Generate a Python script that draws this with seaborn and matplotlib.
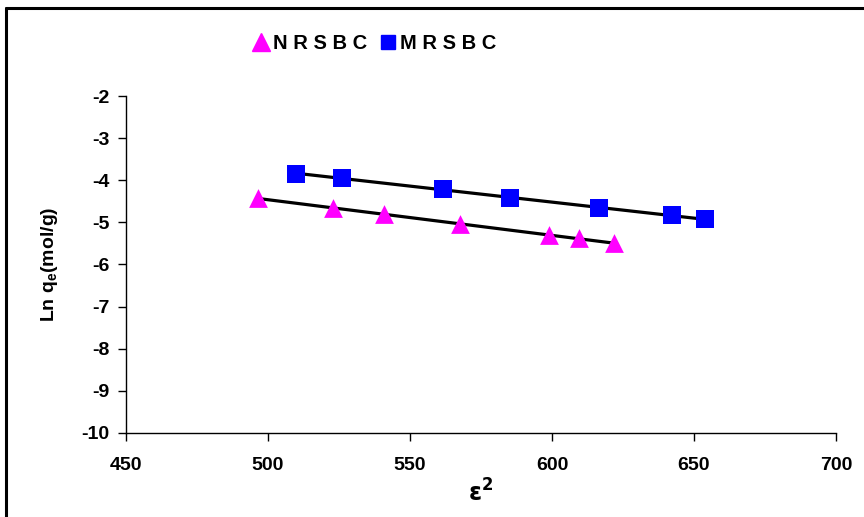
import numpy as np
import pandas as pd
import matplotlib
matplotlib.use("Agg")
import matplotlib.pyplot as plt
import seaborn as sns
from matplotlib.lines import Line2D

# Data
nr_x = [496.4, 523.0, 540.7, 567.5, 598.9, 609.5, 621.7]
nr_y = [-4.43, -4.67, -4.79, -5.04, -5.30, -5.38, -5.50]
mr_x = [509.8, 526.2, 561.7, 585.3, 616.7, 642.1, 653.9]
mr_y = [-3.84, -3.95, -4.21, -4.42, -4.67, -4.83, -4.92]
x_ticks = [450, 500, 550, 600, 650, 700]
y_ticks = [-2, -3, -4, -5, -6, -7, -8, -9, -10]

sns.set_theme(style="white")
plt.rcParams['font.family'] = ['Liberation Sans', 'DejaVu Sans']
plt.rcParams['font.weight'] = 'bold'
plt.rcParams['text.color'] = 'black'
plt.rcParams['axes.labelcolor'] = 'black'
plt.rcParams['xtick.color'] = 'black'
plt.rcParams['ytick.color'] = 'black'

fig = plt.figure(figsize=(8.64, 5.17), dpi=100)
ax = fig.add_axes([0.1458, 0.1625, 0.8218, 0.6518])

nr = pd.DataFrame({"x": nr_x, "y": nr_y})
mr = pd.DataFrame({"x": mr_x, "y": mr_y})

sns.regplot(data=nr, x="x", y="y", ax=ax, scatter=False, ci=None, truncate=True,
            line_kws=dict(color="black", lw=2.3, zorder=2))
sns.regplot(data=mr, x="x", y="y", ax=ax, scatter=False, ci=None, truncate=True,
            line_kws=dict(color="black", lw=2.3, zorder=2))
sns.scatterplot(data=nr, x="x", y="y", ax=ax, marker="^", s=13.5**2, color="#FF00FF",
                edgecolor="#FF00FF", linewidth=0, zorder=3)
sns.scatterplot(data=mr, x="x", y="y", ax=ax, marker="s", s=12.5**2, color="#0000FF",
                edgecolor="#0000FF", linewidth=0, zorder=3)

ax.set_xlim(450, 700)
ax.set_ylim(-10, -2)
ax.set_xticks(x_ticks)
ax.set_yticks(y_ticks)
ax.set_xticklabels([str(t) for t in x_ticks], fontsize=14, fontweight='bold', color='black')
ax.set_yticklabels([str(t) for t in y_ticks], fontsize=14, fontweight='bold', color='black')
for s in ["top", "right"]:
    ax.spines[s].set_visible(False)
for s in ["left", "bottom"]:
    ax.spines[s].set_color("black")
    ax.spines[s].set_linewidth(1.0)
ax.tick_params(axis="both", direction="out", length=6, width=1, color="black",
               left=True, bottom=True)
ax.tick_params(axis="x", pad=11)
ax.tick_params(axis="y", pad=6)
ax.set_xlabel(r"$\mathbf{\varepsilon}^{\mathbf{2}}$", fontsize=17, fontweight='bold',
              labelpad=4, color='black')
ax.set_ylabel(r"Ln q$_\mathregular{e}$(mol/g)", fontsize=14, fontweight='bold',
              labelpad=15, color='black')
ax.grid(False)

handles = [Line2D([], [], marker="^", color="#FF00FF", ls="none", markersize=12.5),
           Line2D([], [], marker="s", color="#0000FF", ls="none", markersize=10.5)]
fig.legend(handles, ["N R S B C", "M R S B C"], loc="center", ncol=2,
           bbox_to_anchor=(0.432, 0.915), frameon=False, handletextpad=0.05,
           columnspacing=0.5, handlelength=1.1, labelcolor='black',
           prop=dict(family="Liberation Sans", weight="bold", size=14.5))

# outer frame (top and left edges as in the reference)
fig.add_artist(Line2D([0.0075, 1.0], [0.985, 0.985], color="black", lw=2.2,
                      transform=fig.transFigure))
fig.add_artist(Line2D([0.0075, 0.0075], [0.0, 0.985], color="black", lw=2.2,
                      transform=fig.transFigure))

fig.savefig("out.png", dpi=100)
